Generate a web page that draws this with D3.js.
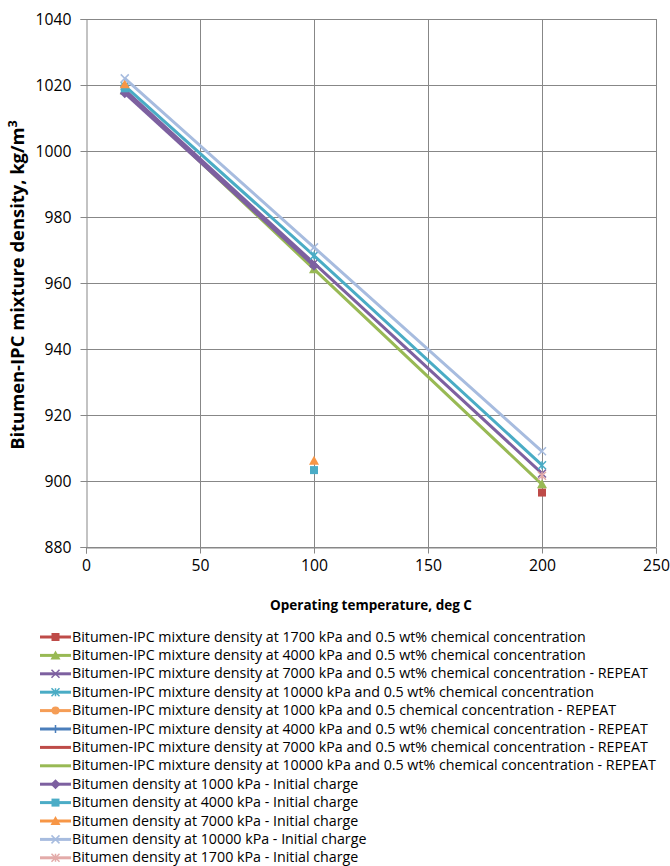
<!DOCTYPE html>
<html>
<head>
<meta charset="utf-8">
<script src="https://cdn.jsdelivr.net/npm/d3@7/dist/d3.min.js"></script>
<style>
  html, body { margin: 0; padding: 0; background: #fff; }
  svg { display: block; font-family: "Open Sans", Lato, sans-serif; }
</style>
</head>
<body>
<svg id="chart" width="670" height="866"></svg>
<script>
// Temperatures (deg C) and densities (kg/m3); null marks a break in a series
const xTicks = [0, 50, 100, 150, 200, 250];
const yTicks = [880, 900, 920, 940, 960, 980, 1000, 1020, 1040];

const seriesNames = [
  "Bitumen-IPC mixture density at 1700 kPa and 0.5 wt% chemical concentration",
  "Bitumen-IPC mixture density at 4000 kPa and 0.5 wt% chemical concentration",
  "Bitumen-IPC mixture density at 7000 kPa and 0.5 wt% chemical concentration - REPEAT",
  "Bitumen-IPC mixture density at 10000 kPa and 0.5 wt% chemical concentration",
  "Bitumen-IPC mixture density at 1000 kPa and 0.5 chemical concentration - REPEAT",
  "Bitumen-IPC mixture density at 4000 kPa and 0.5 wt% chemical concentration - REPEAT",
  "Bitumen-IPC mixture density at 7000 kPa and 0.5 wt% chemical concentration - REPEAT",
  "Bitumen-IPC mixture density at 10000 kPa and 0.5 wt% chemical concentration - REPEAT",
  "Bitumen density at 1000 kPa - Initial charge",
  "Bitumen density at 4000 kPa - Initial charge",
  "Bitumen density at 7000 kPa - Initial charge",
  "Bitumen density at 10000 kPa - Initial charge",
  "Bitumen density at 1700 kPa - Initial charge"
];
const seriesColors = ["#BE4B48", "#98B954", "#7D60A0", "#4AACC5", "#F59D56", "#4A7EBB",
                      "#BE4B48", "#98B954", "#7D60A0", "#4BACC6", "#F79646", "#A7BCDF", "#E3ABA9"];
const seriesMarkers = ["square", "triangle", "x", "asterisk", "circle", "plus",
                       "none", "none", "diamond", "square", "triangle", "x", "asterisk"];

const seriesTemps = [
  [200],
  [17, 100, 200],
  [17, 100, 200],
  [17, 100, 200],
  [],
  [],
  [],
  [],
  [17, 100],
  [17, null, 100],
  [17, null, 100],
  [17, 100, 200],
  [200]
];
const seriesDensities = [
  [896.5],
  [1018.3, 964.2, 899.0],
  [1018.5, 966.0, 902.3],
  [1019.7, 968.3, 904.8],
  [],
  [],
  [],
  [],
  [1017.5, 965.2],
  [1019.0, null, 903.3],
  [1020.2, null, 906.1],
  [1022.0, 970.8, 909.0],
  [901.6]
];

const svg = d3.select("#chart");
const plot = { left: 86, right: 656, top: 19, bottom: 547 };
const x = d3.scaleLinear().domain([0, 250]).range([plot.left, plot.right]);
const y = d3.scaleLinear().domain([880, 1040]).range([plot.bottom, plot.top]);
const gridColor = "#878787";

// Resize a text element's font so that its rendered width equals a target width
function fitWidth(sel, target) {
  const size = parseFloat(sel.attr("font-size"));
  const w = sel.node().getComputedTextLength();
  if (w > 0) sel.attr("font-size", (size * target / w).toFixed(2));
}

// Gridlines
const grid = svg.append("g");
grid.selectAll("line.gy").data(yTicks).join("line")
  .attr("x1", plot.left).attr("x2", plot.right)
  .attr("y1", d => Math.round(y(d)) + 0.5).attr("y2", d => Math.round(y(d)) + 0.5)
  .attr("stroke", gridColor).attr("stroke-width", 1);
grid.selectAll("line.gx").data(xTicks.slice(1)).join("line")
  .attr("y1", plot.top).attr("y2", plot.bottom)
  .attr("x1", d => Math.round(x(d)) + 0.5).attr("x2", d => Math.round(x(d)) + 0.5)
  .attr("stroke", gridColor).attr("stroke-width", 1);

// Axes
const yAxis = d3.axisLeft(y).tickValues(yTicks).tickSize(6).tickPadding(9).tickFormat(d3.format("d"));
const xAxis = d3.axisBottom(x).tickValues(xTicks).tickSize(6).tickPadding(6).tickFormat(d3.format("d"));
const gy = svg.append("g").attr("transform", `translate(${plot.left + 0.5},0)`).call(yAxis);
const gx = svg.append("g").attr("transform", `translate(0,${Math.round(plot.bottom) + 0.5})`).call(xAxis);
[gx, gy].forEach(g => {
  g.select(".domain").attr("stroke", gridColor);
  g.selectAll(".tick line").attr("stroke", gridColor);
  g.selectAll(".tick text").attr("font-size", 14).attr("fill", "#000")
    .attr("font-family", "'Open Sans', Lato, sans-serif");
});
// Tick label size set from the width of "1040"
const probe = gy.selectAll(".tick text").filter(d => d === 1040);
fitWidth(probe, 36);
const tickSize = probe.attr("font-size");
gx.selectAll(".tick text").attr("font-size", tickSize);
gy.selectAll(".tick text").attr("font-size", tickSize);

// Axis titles
const xt = svg.append("text")
  .attr("x", (plot.left + plot.right) / 2).attr("y", 610)
  .attr("text-anchor", "middle").attr("font-size", 13).attr("font-weight", "bold")
  .text("Operating temperature, deg C");
fitWidth(xt, 202);
const yt = svg.append("text")
  .attr("transform", `translate(24,${(plot.top + plot.bottom) / 2 + 2}) rotate(-90)`)
  .attr("text-anchor", "middle").attr("font-size", 13).attr("font-weight", "bold");
yt.append("tspan").text("Bitumen-IPC mixture density, kg/m");
yt.append("tspan").attr("dy", -5).attr("font-size", 9).text("3");
{
  // scale the whole y title to its span along the axis
  const w = yt.node().getComputedTextLength();
  const k = 330 / w;
  yt.attr("font-size", (13 * k).toFixed(2));
  yt.select("tspan:last-child").attr("font-size", (9 * k).toFixed(2)).attr("dy", (-5 * k).toFixed(2));
}

// Marker shapes
function drawMarker(g, type, color, cx, cy, s) {
  const h = s / 2;
  if (type === "square") {
    g.append("rect").attr("x", cx - h).attr("y", cy - h).attr("width", s).attr("height", s).attr("fill", color);
  } else if (type === "triangle") {
    g.append("path").attr("d", `M${cx},${cy - h - 1}L${cx + h + 1},${cy + h}L${cx - h - 1},${cy + h}Z`).attr("fill", color);
  } else if (type === "diamond") {
    g.append("path").attr("d", `M${cx},${cy - h - 1}L${cx + h + 1},${cy}L${cx},${cy + h + 1}L${cx - h - 1},${cy}Z`).attr("fill", color);
  } else if (type === "circle") {
    g.append("circle").attr("cx", cx).attr("cy", cy).attr("r", h).attr("fill", color);
  } else if (type === "x") {
    g.append("path").attr("d", `M${cx - h},${cy - h}L${cx + h},${cy + h}M${cx - h},${cy + h}L${cx + h},${cy - h}`)
      .attr("stroke", color).attr("stroke-width", 1.5).attr("fill", "none");
  } else if (type === "plus") {
    g.append("path").attr("d", `M${cx - h},${cy}L${cx + h},${cy}M${cx},${cy - h}L${cx},${cy + h}`)
      .attr("stroke", color).attr("stroke-width", 1.5).attr("fill", "none");
  } else if (type === "asterisk") {
    g.append("path").attr("d", `M${cx - h},${cy - h}L${cx + h},${cy + h}M${cx - h},${cy + h}L${cx + h},${cy - h}M${cx},${cy - h}L${cx},${cy + h}`)
      .attr("stroke", color).attr("stroke-width", 1.5).attr("fill", "none");
  }
}

// Series lines and markers
const line = d3.line()
  .defined(d => d[0] !== null && d[1] !== null)
  .x(d => x(d[0])).y(d => y(d[1]));
const seriesLayer = svg.append("g");
seriesNames.forEach((name, i) => {
  const pts = seriesTemps[i].map((t, j) => [t, seriesDensities[i][j]]);
  const g = seriesLayer.append("g");
  g.append("path").datum(pts).attr("d", line)
    .attr("fill", "none").attr("stroke", seriesColors[i]).attr("stroke-width", 3)
    .attr("stroke-linejoin", "round");
  pts.filter(p => p[0] !== null && p[1] !== null).forEach(p => {
    drawMarker(g, seriesMarkers[i], seriesColors[i], x(p[0]), y(p[1]), 8);
  });
});

// Legend
const legend = svg.append("g");
const legendTexts = [];
seriesNames.forEach((name, i) => {
  const ly = 637 + i * 18.4;
  const row = legend.append("g");
  row.append("line").attr("x1", 40).attr("x2", 71).attr("y1", ly).attr("y2", ly)
    .attr("stroke", seriesColors[i]).attr("stroke-width", 3);
  drawMarker(row, seriesMarkers[i], seriesColors[i], 55.5, ly, 8);
  legendTexts.push(row.append("text").attr("x", 72).attr("y", ly + 4.5)
    .attr("font-size", 13).attr("fill", "#000").text(name));
});
// Legend font size set from the longest entry
const longest = legendTexts[7];
fitWidth(longest, 584);
const legendSize = longest.attr("font-size");
legendTexts.forEach(t => t.attr("font-size", legendSize));
</script>
</body>
</html>
